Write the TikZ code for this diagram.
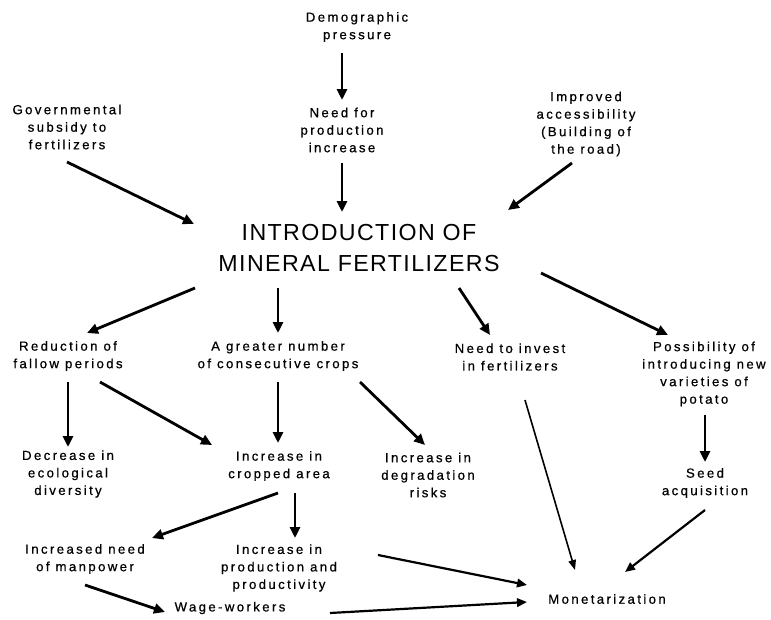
\documentclass[tikz,border=0pt]{standalone}
\usepackage{fontspec}
\setmainfont{Liberation Sans}
\newfontfamily\lblf{Liberation Sans}[LetterSpace=18,FakeBold=0.6]
\newfontfamily\ttlf{Liberation Sans}[LetterSpace=6]
\usetikzlibrary{arrows.meta}
\begin{document}
\begin{tikzpicture}[x=1pt,y=-1pt,
  lbl/.style={inner sep=0pt,align=center,font=\lblf\fontsize{13.2}{17.5}\selectfont},
  ttl/.style={inner sep=0pt,align=center,font=\ttlf\fontsize{23.2}{31}\selectfont},
  arr/.style={line width=2.8pt,-{Triangle[length=11pt,width=10pt]}},
  arrm/.style={line width=2.2pt,-{Triangle[length=10pt,width=8.5pt]}},
  arrt/.style={line width=1.6pt,-{Triangle[length=10pt,width=7.5pt]}}]
\useasboundingbox[fill=white] (0,0) rectangle (771,619);
\node[lbl] (demo) at (357,27) {Demographic\\pressure};
\node[lbl] (need) at (342,130) {Need for\\production\\increase};
\node[lbl] (gov) at (67,127) {Governmental\\subsidy to\\fertilizers};
\node[lbl] (impr) at (586,124) {Improved\\accessibility\\(Building of\\the road)};
\node[ttl] (title) at (359,248) {INTRODUCTION OF\\MINERAL FERTILIZERS};
\node[lbl] (red) at (68,356) {Reduction of\\fallow periods};
\node[lbl] (great) at (278,356) {A greater number\\of consecutive crops};
\node[lbl] (invest) at (510,357) {Need to invest\\in fertilizers};
\node[lbl] (poss) at (704,374) {Possibility of\\introducing new\\varieties of\\potato};
\node[lbl] (decr) at (68,474) {Decrease in\\ecological\\diversity};
\node[lbl] (crop) at (279,466) {Increase in\\cropped area};
\node[lbl] (degr) at (428,475) {Increase in\\degradation\\risks};
\node[lbl] (seed) at (705,483) {Seed\\acquisition};
\node[lbl] (manp) at (85,559) {Increased need\\of manpower};
\node[lbl] (prod) at (279,568) {Increase in\\production and\\productivity};
\node[lbl] (wage) at (230,608) {Wage-workers};
\node[lbl] (mon) at (607,599) {Monetarization};

\draw[arr] ([shift={(-15,26)}]demo.center) -- ([shift={(0,-30)}]need.center);
\draw[arr] ([shift={(0,33)}]need.center) -- ([shift={(-17,-36)}]title.center);
\draw[arr] ([shift={(0,35)}]gov.center) -- ([shift={(-165,-24)}]title.center);
\draw[arr] ([shift={(-14,39)}]impr.center) -- ([shift={(149,-38)}]title.center);
\draw[arr] ([shift={(-164,40)}]title.center) -- ([shift={(19,-23)}]red.center);
\draw[arr] ([shift={(-81,40)}]title.center) -- ([shift={(0,-23)}]great.center);
\draw[arr] ([shift={(100,40)}]title.center) -- ([shift={(-20,-22)}]invest.center);
\draw[arr] ([shift={(182,25)}]title.center) -- ([shift={(-36,-39)}]poss.center);
\draw[arr] ([shift={(0,26)}]red.center) -- ([shift={(0,-27)}]decr.center);
\draw[arr] ([shift={(32,26)}]red.center) -- ([shift={(-67,-21)}]crop.center);
\draw[arr] ([shift={(0,26)}]great.center) -- ([shift={(-1,-23)}]crop.center);
\draw[arr] ([shift={(82,26)}]great.center) -- ([shift={(-3,-30)}]degr.center);
\draw[arrt] ([shift={(15,43)}]invest.center) -- ([shift={(-32,-29)}]mon.center);
\draw[arr] ([shift={(1,41)}]poss.center) -- ([shift={(0,-21)}]seed.center);
\draw[arrm] ([shift={(0,27)}]seed.center) -- ([shift={(18,-27)}]mon.center);
\draw[arr] ([shift={(-1,27)}]crop.center) -- ([shift={(67,-21)}]manp.center);
\draw[arr] ([shift={(16,27)}]crop.center) -- ([shift={(16,-30)}]prod.center);
\draw[arrm] ([shift={(99,-13)}]prod.center) -- ([shift={(-80,-14)}]mon.center);
\draw[arr] ([shift={(0,26)}]manp.center) -- ([shift={(-65,4)}]wage.center);
\draw[arrm] ([shift={(100,5)}]wage.center) -- ([shift={(-80,3)}]mon.center);
\end{tikzpicture}
\end{document}
